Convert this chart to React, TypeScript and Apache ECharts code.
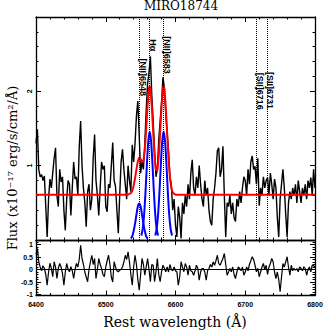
import React, { useEffect, useRef } from 'react';
import * as echarts from 'echarts';

const wave: number[] = Array.from({ length: 201 }, (_, i) => 6400 + 2 * i);

const flux: number[] = [
  1.30,1.49,0.95,0.85,0.88,0.80,0.86,0.45,0.04,0.55,
  0.82,0.70,0.90,1.10,1.24,0.60,0.45,0.95,0.78,0.85,
  0.40,0.13,0.55,0.80,0.75,0.33,0.70,1.05,0.82,0.85,
  0.60,1.25,1.60,1.00,0.70,0.50,0.18,0.65,0.75,0.40,
  0.55,1.10,1.42,0.80,0.60,0.33,0.70,1.05,0.95,1.00,
  0.45,0.38,0.75,0.70,1.00,1.31,0.80,0.72,0.40,0.09,
  0.60,1.05,1.22,0.95,0.75,0.55,1.00,0.80,0.65,1.28,
  1.05,1.30,1.67,1.87,1.40,0.90,1.05,0.95,1.30,1.75,
  2.10,2.25,2.47,1.95,1.60,1.20,0.85,0.95,1.35,1.60,
  1.85,2.19,2.05,1.70,1.45,1.20,0.85,0.75,0.40,0.55,
  0.20,0.04,0.45,0.30,0.02,0.50,0.35,0.60,0.45,0.75,
  0.55,0.90,1.08,0.70,0.60,0.85,0.70,1.00,0.75,0.55,
  0.45,0.80,0.60,0.70,0.40,0.25,0.20,0.55,0.70,0.90,
  1.20,1.24,0.85,0.95,1.26,0.60,0.04,0.50,0.45,0.60,
  0.35,0.50,0.30,0.25,0.55,0.45,0.65,0.50,0.70,0.85,
  0.80,0.60,0.95,0.75,1.05,1.13,0.95,0.99,0.75,1.10,
  0.46,0.70,0.60,0.85,0.70,0.80,0.84,0.60,0.90,0.75,
  0.55,0.82,0.70,0.30,0.04,0.55,0.75,0.95,0.70,0.35,
  0.04,0.50,0.65,0.55,0.70,0.60,0.75,0.50,0.80,0.65,
  0.50,0.70,0.60,0.75,0.55,0.80,0.70,0.84,0.60,0.95,
  0.70,
];

const resid: number[] = [
  0.60,0.84,0.30,0.10,-0.05,0.15,0.05,-0.20,-0.63,-0.10,
  0.25,0.05,-0.29,0.31,0.10,-0.36,0.05,0.24,0.10,-0.16,
  -0.63,-0.10,0.24,0.00,-0.09,0.11,-0.05,-0.36,0.00,0.24,
  0.10,0.40,0.97,0.44,0.20,-0.10,-0.30,-0.49,0.00,0.30,
  0.57,0.20,0.44,-0.36,0.00,0.44,0.20,0.04,-0.20,-0.29,
  0.10,0.35,0.57,0.20,-0.30,-0.50,0.31,0.10,-0.05,-0.09,
  -0.03,0.00,0.10,0.30,0.57,0.40,0.71,0.30,-0.20,-0.63,
  0.10,0.57,0.20,-0.40,-0.83,-0.20,0.44,0.20,-0.23,0.10,
  0.44,0.00,-0.49,0.20,0.17,-0.49,-0.10,0.44,-0.20,-0.49,
  -0.09,0.17,0.05,-0.09,0.10,-0.10,0.20,0.00,-0.05,0.10,
  -0.05,-0.10,-0.63,-0.30,0.31,0.10,-0.09,0.24,0.10,-0.23,
  0.17,-0.05,-0.09,-0.23,-0.05,0.17,0.05,-0.43,-0.10,0.04,
  0.04,-0.10,-0.43,-0.05,0.04,0.20,0.10,0.30,0.17,0.35,
  0.57,0.24,0.17,0.31,0.44,0.64,0.20,-0.23,-0.10,0.04,
  -0.09,0.10,-0.20,-0.36,-0.10,0.10,0.04,-0.05,0.10,-0.23,
  -0.10,0.10,-0.05,0.20,0.35,0.51,0.40,0.17,-0.09,0.05,
  -0.29,-0.10,0.10,0.24,0.00,0.17,-0.20,0.10,0.24,0.44,
  0.30,-0.10,-0.36,-0.10,-0.40,-0.89,-0.30,0.24,0.10,0.30,
  0.51,0.10,-0.23,0.17,-0.05,0.05,-0.03,0.04,-0.09,0.10,
  0.04,-0.05,0.11,0.04,-0.23,0.00,0.10,-0.09,0.17,0.15,
  0.10,
];

// total model (red): [wavelength, flux]
const modelTotal: number[][] = [
  [6400,0.61],[6532,0.61],[6536,0.63],[6538,0.66],[6540,0.73],[6542,0.83],[6544,0.95],
  [6546,1.06],[6548,1.11],[6550,1.09],[6552,1.05],[6554,1.06],[6556,1.21],[6558,1.49],
  [6560,1.82],[6562,2.04],[6563,2.07],[6564,2.04],[6566,1.80],[6568,1.45],[6570,1.12],
  [6572,0.94],[6574,0.94],[6576,1.12],[6578,1.45],[6580,1.80],[6582,2.04],[6583,2.07],
  [6584,2.04],[6586,1.80],[6588,1.44],[6590,1.09],[6592,0.84],[6594,0.70],[6596,0.64],
  [6598,0.62],[6600,0.61],[6800,0.61],
];

// individual components (blue)
const compNII6548: number[][] = [
  [6536,0.02],[6538,0.05],[6540,0.12],[6542,0.22],[6544,0.34],[6546,0.45],[6548,0.49],
  [6550,0.45],[6552,0.34],[6554,0.22],[6556,0.12],[6558,0.05],[6560,0.02],
];
const compHa: number[][] = [
  [6551,0.06],[6553,0.15],[6555,0.34],[6557,0.65],[6559,1.02],[6561,1.33],[6563,1.46],
  [6565,1.33],[6567,1.02],[6569,0.65],[6571,0.34],[6573,0.15],[6575,0.06],
];
const compNII6583: number[][] = [
  [6571,0.06],[6573,0.15],[6575,0.34],[6577,0.65],[6579,1.02],[6581,1.33],[6583,1.46],
  [6585,1.33],[6587,1.02],[6589,0.65],[6591,0.34],[6593,0.15],[6595,0.06],
];

const lineWaves = [6548, 6563, 6583, 6716, 6731];
const lineNames = ['[NII]6548', 'Hα', '[NII]6583', '[SII]6716', '[SII]6731'];
const labelHeights = [2.19, 2.62, 2.49, 2.0, 2.01];

const residLabels = [-1, -0.5, 0, 0.5, 1];
const residMinor = [-1, -0.9, -0.8, -0.7, -0.6, -0.5, -0.4, -0.3, -0.2, -0.1, 0, 0.1, 0.2, 0.3, 0.4, 0.5, 0.6, 0.7, 0.8, 0.9, 1, 1.1];

const tickFont = { fontFamily: 'Liberation Sans', fontSize: 7, fontWeight: 'bold' as const, color: '#000' };
const axisLine = { show: true, onZero: false, lineStyle: { color: '#000', width: 1.3 } };

export default function App() {
  const ref = useRef<HTMLDivElement>(null);
  useEffect(() => {
    if (!ref.current) return;
    const chart = echarts.init(ref.current, null, { renderer: 'svg' });

    const xBase = (gridIndex: number, position: string, showLabel: boolean) => ({
      type: 'value',
      gridIndex,
      position,
      min: 6400,
      max: 6800,
      interval: 100,
      axisLine,
      axisTick: { show: true, inside: true, length: 5, lineStyle: { color: '#000', width: 1 } },
      minorTick: { show: true, splitNumber: 5, length: 2.5, lineStyle: { color: '#000', width: 1 } },
      splitLine: { show: false },
      minorSplitLine: { show: false },
      axisLabel: { show: showLabel, margin: 5, ...tickFont, formatter: (v: number) => String(v) },
    });

    const mainY = (position: string, showLabel: boolean) => ({
      type: 'value',
      gridIndex: 0,
      position,
      min: 0,
      max: 3,
      interval: 1,
      axisLine,
      axisTick: { show: true, inside: true, length: 5, lineStyle: { color: '#000', width: 1 } },
      minorTick: { show: true, splitNumber: 5, length: 2.5, lineStyle: { color: '#000', width: 1 } },
      splitLine: { show: false },
      axisLabel: {
        show: showLabel,
        rotate: 90,
        margin: 3,
        ...tickFont,
        formatter: (v: number) => (v === 1 || v === 2 ? String(v) : ''),
      },
    });

    const residY = (position: string, showLabel: boolean) => ({
      type: 'value',
      gridIndex: 1,
      position,
      min: -1.04,
      max: 1.18,
      axisLine,
      axisTick: { show: true, inside: true, length: 5, customValues: residLabels, lineStyle: { color: '#000', width: 1 } },
      splitLine: { show: false },
      axisLabel: { show: showLabel, customValues: residLabels, margin: 3, ...tickFont },
    });
    const residMinorY = (position: string) => ({
      type: 'value',
      gridIndex: 1,
      position,
      min: -1.04,
      max: 1.18,
      axisLine: { show: false },
      axisTick: { show: true, inside: true, length: 2.5, customValues: residMinor, lineStyle: { color: '#000', width: 1 } },
      splitLine: { show: false },
      axisLabel: { show: false },
    });

    const option: any = {
      animation: false,
      backgroundColor: '#fff',
      grid: [
        { left: 36, top: 17, width: 279, height: 223 },
        { left: 36, top: 240, width: 279, height: 55.5 },
      ],
      xAxis: [
        xBase(0, 'bottom', false),
        xBase(0, 'top', false),
        xBase(1, 'bottom', true),
        xBase(1, 'top', false),
      ],
      yAxis: [
        mainY('left', true),
        mainY('right', false),
        residY('left', true),
        residY('right', false),
        residMinorY('left'),
        residMinorY('right'),
      ],
      series: [
        {
          type: 'line',
          xAxisIndex: 0,
          yAxisIndex: 0,
          data: wave.map((w, i) => [w, flux[i]]),
          showSymbol: false,
          lineStyle: { color: '#000', width: 1.4 },
          clip: true,
          markLine: {
            silent: true,
            symbol: 'none',
            label: { show: false },
            lineStyle: { color: '#000', type: 'dotted', width: 1 },
            data: lineWaves.map((w) => ({ xAxis: w })),
          },
          z: 2,
        },
        ...[compNII6548, compHa, compNII6583].map((c) => ({
          type: 'line',
          xAxisIndex: 0,
          yAxisIndex: 0,
          data: c,
          showSymbol: false,
          smooth: 0.3,
          lineStyle: { color: '#0000ff', width: 2 },
          z: 3,
        })),
        {
          type: 'line',
          xAxisIndex: 0,
          yAxisIndex: 0,
          data: modelTotal,
          showSymbol: false,
          lineStyle: { color: '#ff0000', width: 2 },
          z: 4,
        },
        {
          type: 'line',
          xAxisIndex: 2,
          yAxisIndex: 2,
          data: wave.map((w, i) => [w, resid[i]]),
          showSymbol: false,
          lineStyle: { color: '#000', width: 1.2 },
          markLine: {
            silent: true,
            symbol: 'none',
            label: { show: false },
            lineStyle: { color: '#000', type: 'solid', width: 1 },
            data: [{ yAxis: 0 }],
          },
        },
      ],
      graphic: [
        {
          type: 'text',
          x: 181,
          y: 6,
          style: { text: 'MIRO18744', font: '12px "DejaVu Serif"', fill: '#000', align: 'center', verticalAlign: 'middle' },
        },
        {
          type: 'text',
          x: 12,
          y: 168,
          rotation: Math.PI / 2,
          style: { text: 'Flux (x10⁻¹⁷ erg/s/cm²/Å)', font: '13px "DejaVu Serif"', fill: '#000', align: 'center', verticalAlign: 'middle' },
        },
        {
          type: 'text',
          x: 175,
          y: 322,
          style: { text: 'Rest wavelength (Å)', font: '14px "DejaVu Serif"', fill: '#000', align: 'center', verticalAlign: 'middle' },
        },
      ],
    };

    chart.setOption(option);

    // line-identification labels, placed through the chart's own scales
    const labelGraphics = lineWaves.map((w, i) => {
      const p = chart.convertToPixel({ xAxisIndex: 0, yAxisIndex: 0 } as any, [w, labelHeights[i]]) as number[];
      return {
        type: 'text',
        x: p[0] + 3.5,
        y: p[1],
        rotation: -Math.PI / 2,
        z: 10,
        style: {
          text: lineNames[i],
          font: 'bold 9px "Liberation Sans"',
          fill: '#000',
          align: 'center',
          verticalAlign: 'middle',
        },
      };
    });
    chart.setOption({ graphic: [...option.graphic, ...labelGraphics] });

    return () => chart.dispose();
  }, []);

  return (
    <div
      ref={ref}
      style={{ position: 'fixed', left: 0, top: 0, width: 332, height: 332, background: '#fff' }}
    />
  );
}
